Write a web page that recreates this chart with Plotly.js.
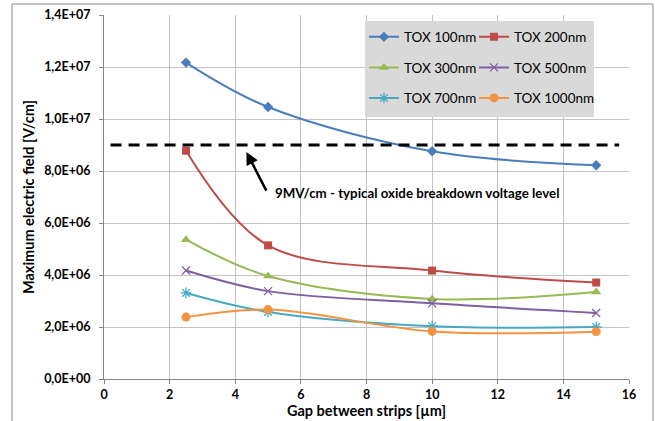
<!DOCTYPE html>
<html>
<head>
<meta charset="utf-8">
<script src="https://cdn.plot.ly/plotly-3.0.1.min.js"></script>
<style>
html,body{margin:0;padding:0;background:#fff;}
#chart{width:655px;height:421px;}
</style>
</head>
<body>
<div id="chart"></div>
<script>
// ---- data ----
const gapX = [2.5, 5, 10, 15];
const seriesNames = ['TOX 100nm', 'TOX 200nm', 'TOX 300nm', 'TOX 500nm', 'TOX 700nm', 'TOX 1000nm'];
const tox100 = [1.217e7, 1.046e7, 8.76e6, 8.22e6];
const tox200 = [8.78e6, 5.14e6, 4.17e6, 3.71e6];
const tox300 = [5.36e6, 3.96e6, 3.08e6, 3.35e6];
const tox500 = [4.17e6, 3.38e6, 2.91e6, 2.54e6];
const tox700 = [3.31e6, 2.58e6, 2.03e6, 2.00e6];
const tox1000 = [2.38e6, 2.67e6, 1.83e6, 1.82e6];
const breakdownX = [0.2, 15.7];
const breakdownY = [9e6, 9e6];
const xTickVals = [0, 2, 4, 6, 8, 10, 12, 14, 16];
const yTickVals = [0, 2e6, 4e6, 6e6, 8e6, 1e7, 1.2e7, 1.4e7];
const yTickLabels = ['0,0E+00', '2,0E+06', '4,0E+06', '6,0E+06', '8,0E+06', '1,0E+07', '1,2E+07', '1,4E+07'];
const annotationText = '9MV/cm - typical oxide breakdown voltage level';

// ---- styles ----
const seriesValues = [tox100, tox200, tox300, tox500, tox700, tox1000];
const colors = ['#4A7EBB', '#BE4B48', '#98B954', '#7D60A0', '#46AAC5', '#F69240'];
const symbols = ['diamond', 'square', 'triangle-up', 'x-thin', 'asterisk', 'circle'];
const sizes = [8, 8, 9, 8, 9, 9];
const legendIds = ['legend', 'legend2', 'legend', 'legend2', 'legend', 'legend2'];
const FONT = 'Lato, "Open Sans", sans-serif';

const traces = seriesValues.map((vals, i) => ({
  type: 'scatter',
  mode: 'lines+markers',
  name: seriesNames[i],
  x: gapX,
  y: vals,
  legend: legendIds[i],
  legendgroup: 'g' + i,
  line: {color: colors[i], width: 2, shape: 'spline', smoothing: 1},
  marker: {symbol: symbols[i], size: sizes[i], color: colors[i],
           line: {width: (symbols[i] === 'x-thin' || symbols[i] === 'asterisk') ? 1.3 : 0, color: colors[i]}}
}));

traces.push({
  type: 'scatter', mode: 'lines', x: breakdownX, y: breakdownY,
  showlegend: false, hoverinfo: 'skip',
  line: {color: '#000', width: 3, dash: '11px,7px'}
});

const axisCommon = {
  showgrid: true, gridcolor: '#c3c3c3', gridwidth: 1,
  showline: true, linecolor: '#868686', linewidth: 1,
  ticks: 'outside', ticklen: 4, tickcolor: '#868686',
  zeroline: false,
  tickfont: {family: FONT, size: 12.5, weight: 700, color: '#000'}
};

const layout = {
  width: 655, height: 421,
  margin: {l: 104, r: 26, t: 15, b: 42},
  paper_bgcolor: '#fff', plot_bgcolor: '#fff',
  font: {family: FONT, color: '#000'},
  xaxis: Object.assign({}, axisCommon, {
    range: [0, 16], tickvals: xTickVals,
    title: {text: 'Gap between strips [µm]', font: {family: FONT, size: 14.5, weight: 700, color: '#000'}, standoff: 3}
  }),
  yaxis: Object.assign({}, axisCommon, {
    range: [0, 1.4e7], tickvals: yTickVals, ticktext: yTickLabels,
    ticklabelstandoff: 6,
    title: {text: 'Maximum electric field [V/cm]', font: {family: FONT, size: 14.5, weight: 700, color: '#000'}, standoff: 6}
  }),
  legend: {x: 0.4952, y: 0.982, xanchor: 'left', yanchor: 'top', bgcolor: 'rgba(0,0,0,0)',
           font: {family: FONT, size: 13.5, color: '#000'}, tracegroupgap: 10, itemwidth: 30},
  legend2: {x: 0.7048, y: 0.982, xanchor: 'left', yanchor: 'top', bgcolor: 'rgba(0,0,0,0)',
           font: {family: FONT, size: 13.5, color: '#000'}, tracegroupgap: 10, itemwidth: 30},
  shapes: [
    {type: 'rect', xref: 'paper', yref: 'paper', x0: 0.4971, x1: 0.9333, y0: 0.7196, y1: 0.9835,
     fillcolor: '#d9d9d9', line: {width: 0}, layer: 'above'},
    {type: 'rect', xref: 'paper', yref: 'paper', x0: -0.1752, x1: 1.0457, y0: -0.13, y1: 1.0302,
     fillcolor: 'rgba(0,0,0,0)', line: {width: 1, color: '#8c8c8c'}, layer: 'below'}
  ],
  annotations: [
    {x: 4.34, y: 8.73e6, ax: 4.97, ay: 7.19e6, axref: 'x', ayref: 'y', xref: 'x', yref: 'y',
     text: '', showarrow: true, arrowhead: 2, arrowsize: 1, arrowwidth: 2.5, arrowcolor: '#000', standoff: 0},
    {x: 5.16, y: 7.14e6, xref: 'x', yref: 'y', xanchor: 'left', yanchor: 'middle', showarrow: false,
     text: annotationText, font: {family: FONT, size: 13.3, weight: 700, color: '#000'}}
  ],
  showlegend: true
};

Plotly.newPlot('chart', traces, layout, {displayModeBar: false, staticPlot: true});
</script>
</body>
</html>
